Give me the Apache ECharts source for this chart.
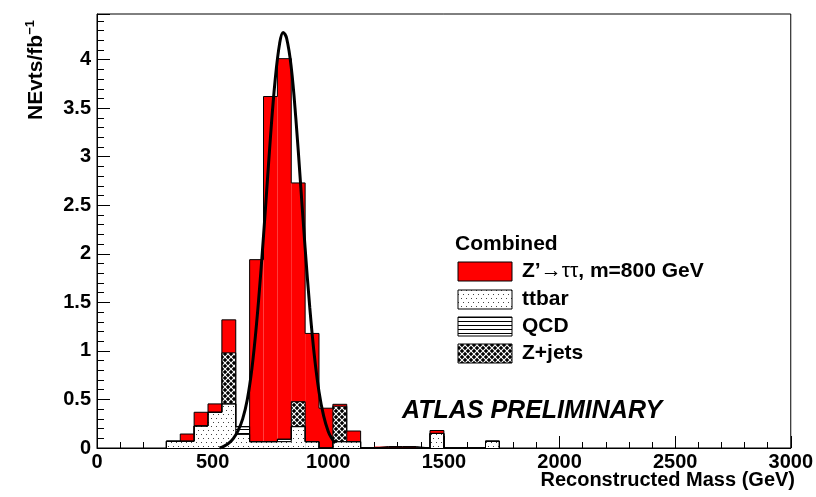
<!DOCTYPE html>
<html><head><meta charset="utf-8">
<script src="https://cdn.jsdelivr.net/npm/echarts@6/dist/echarts.min.js"></script>
<style>html,body{margin:0;padding:0;background:#fff}#c{width:816px;height:497px}</style>
</head><body><div id="c"></div>
<script>
// ---- data ----
const binLow   = [300, 360, 420, 480, 540, 600, 660, 720, 780, 840, 900, 960, 1020, 1080, 1200, 1260, 1320, 1440, 1680];
const binWidth = 60;
const ttbar  = [0.07, 0.07, 0.227, 0.368, 0.454, 0.14, 0.065, 0.065, 0.065, 0.22, 0.065, 0, 0.065, 0.065, 0, 0, 0, 0.15, 0.07];
const qcd    = [0, 0, 0, 0, 0, 0.08, 0, 0, 0.025, 0, 0, 0, 0, 0, 0, 0, 0, 0, 0];
const zjets  = [0, 0, 0, 0, 0.526, 0, 0, 0, 0, 0.257, 0, 0, 0.365, 0, 0, 0, 0, 0, 0];
const signal = [0, 0.074, 0.141, 0.086, 0.34, 0, 1.875, 3.555, 3.92, 2.253, 1.115, 0.41, 0.02, 0.11, 0.015, 0.015, 0.015, 0.03, 0];
const curveMass  = [530, 550, 570, 590, 610, 630, 650, 670, 690, 710, 730, 750, 770, 790, 805, 820, 840, 860, 880, 900, 920, 940, 960, 980, 1000, 1015, 1030];
const curveValue = [0.0, 0.02, 0.05, 0.1, 0.18, 0.3, 0.5, 0.82, 1.28, 1.86, 2.52, 3.2, 3.78, 4.17, 4.28, 4.22, 3.92, 3.39, 2.73, 2.06, 1.45, 0.95, 0.58, 0.33, 0.17, 0.1, 0.05];
const legendTitle  = 'Combined';
const legendLabels = ['Z’→ττ, m=800 GeV', 'ttbar', 'QCD', 'Z+jets'];
const xTitle = 'Reconstructed Mass (GeV)';
const yTitle = 'NEvts/fb';
const stamp  = 'ATLAS PRELIMINARY';

// ---- patterns ----
function pat(kind) {
  const c = document.createElement('canvas');
  const ctx = c.getContext('2d');
  if (kind === 'dots') {
    c.width = 5; c.height = 8;
    ctx.fillStyle = '#fff'; ctx.fillRect(0, 0, 5, 8);
    ctx.fillStyle = '#444';
    ctx.fillRect(1, 2, 1, 1); ctx.fillRect(3, 6, 1, 1);
  } else if (kind === 'hlines') {
    c.width = 4; c.height = 4;
    ctx.fillStyle = '#fff'; ctx.fillRect(0, 0, 4, 4);
    ctx.fillStyle = '#000'; ctx.fillRect(0, 1, 4, 1);
  } else {
    c.width = 6; c.height = 6;
    ctx.fillStyle = '#000'; ctx.fillRect(0, 0, 6, 6);
    ctx.strokeStyle = '#fff'; ctx.lineWidth = 1.1;
    ctx.beginPath(); ctx.moveTo(0, 0); ctx.lineTo(6, 6); ctx.moveTo(6, 0); ctx.lineTo(0, 6); ctx.stroke();
  }
  return { image: c, repeat: 'repeat' };
}
const fills = ['#ff0000', pat('dots'), pat('hlines'), pat('cross')];

// cumulative levels: ttbar, +qcd, +zjets, +signal
const lvl1 = ttbar.slice();
const lvl2 = lvl1.map((v, i) => v + qcd[i]);
const lvl3 = lvl2.map((v, i) => v + zjets[i]);
const lvl4 = lvl3.map((v, i) => v + signal[i]);

function histSeries(name, base, top, fill) {
  const data = binLow.map((lo, i) => [lo, lo + binWidth, base[i], top[i]]).filter(d => d[3] > d[2]);
  return {
    type: 'custom', name, z: 2, silent: true, data,
    encode: { x: [0, 1], y: [2, 3] },
    renderItem: (params, api) => {
      const p0 = api.coord([api.value(0), api.value(3)]);
      const p1 = api.coord([api.value(1), api.value(2)]);
      return { type: 'rect', shape: { x: p0[0], y: p0[1], width: p1[0] - p0[0], height: p1[1] - p0[1] }, style: { fill: fill, stroke: null } };
    }
  };
}
function contour(levels) {
  const pts = [];
  let prevHi = null;
  binLow.forEach((lo, i) => {
    const hi = lo + binWidth, v = levels[i];
    if (prevHi === null) pts.push([lo, 0]);
    else if (prevHi !== lo) { pts.push([prevHi, 0]); pts.push([lo, 0]); }
    pts.push([lo, v]); pts.push([hi, v]);
    prevHi = hi;
  });
  pts.push([prevHi, 0]);
  return pts;
}
function contourSeries(levels) {
  return { type: 'line', data: contour(levels), showSymbol: false, silent: true, z: 3,
           lineStyle: { color: '#000', width: 1 }, animation: false };
}

const FONT = '"Liberation Sans", Arial, Helvetica, sans-serif';
const zero = binLow.map(() => 0);

const chart = echarts.init(document.getElementById('c'), null, { renderer: 'canvas' });
chart.setOption({
  animation: false,
  backgroundColor: '#fff',
  grid: { left: 97, right: 21, top: 14, bottom: 49, show: true, borderColor: '#000', borderWidth: 1, backgroundColor: 'transparent' },
  xAxis: {
    type: 'value', min: 0, max: 3000, interval: 500,
    axisLine: { show: true, onZero: false, lineStyle: { color: '#000', width: 1 } },
    axisTick: { show: true, inside: true, length: 12, lineStyle: { color: '#000' } },
    minorTick: { show: true, splitNumber: 5, length: 6, lineStyle: { color: '#000' } },
    splitLine: { show: false },
    axisLabel: { color: '#000', fontFamily: FONT, fontWeight: 'bold', fontSize: 20, margin: 4, formatter: v => String(v) }
  },
  yAxis: {
    type: 'value', min: 0, max: 4.47, interval: 0.5,
    axisLine: { show: true, onZero: false, lineStyle: { color: '#000', width: 1 } },
    axisTick: { show: true, inside: true, length: 13, lineStyle: { color: '#000' } },
    minorTick: { show: true, splitNumber: 5, length: 7, lineStyle: { color: '#000' } },
    splitLine: { show: false },
    axisLabel: { color: '#000', fontFamily: FONT, fontWeight: 'bold', fontSize: 20, margin: 6, showMaxLabel: false }
  },
  series: [
    histSeries('ttbar', zero, lvl1, fills[1]),
    histSeries('QCD', lvl1, lvl2, fills[2]),
    histSeries('Z+jets', lvl2, lvl3, fills[3]),
    histSeries('signal', lvl3, lvl4, fills[0]),
    contourSeries(lvl4), contourSeries(lvl3), contourSeries(lvl2), contourSeries(lvl1),
    { type: 'line', data: curveMass.map((m, i) => [m, curveValue[i]]), smooth: 0.4, showSymbol: false, silent: true, z: 5,
      lineStyle: { color: '#000', width: 3 } }
  ],
  graphic: [
    { type: 'text', x: 24, y: 120, rotation: Math.PI / 2, z: 10,
      style: { text: '{a|' + yTitle + '}{b|−1}', rich: {
        a: { font: 'bold 21px ' + FONT, fill: '#000' },
        b: { font: 'bold 13px ' + FONT, fill: '#000', padding: [0, 0, 11, 0] } },
        verticalAlign: 'top', align: 'left' } },
    { type: 'text', right: 21, top: 470, z: 10, style: { text: xTitle, font: 'bold 20px ' + FONT, fill: '#000' } },
    { type: 'text', x: 402, y: 399, z: 10, style: { text: stamp, font: 'italic bold 25px ' + FONT, fill: '#000' } },
    { type: 'text', x: 455, y: 234, z: 10, style: { text: legendTitle, font: 'bold 21px ' + FONT, fill: '#000' } },
    ...legendLabels.flatMap((lab, i) => {
      const y = [262, 290, 317, 344][i];
      const txt = i === 0
        ? { text: '{b|Z’}{s|→ττ}{b|, m=800 GeV}', rich: { b: { font: 'bold 21px ' + FONT, fill: '#000' }, s: { font: '21px ' + FONT, fill: '#000' } } }
        : { text: lab, font: 'bold 21px ' + FONT, fill: '#000' };
      return [
        { type: 'rect', z: 10, shape: { x: 458, y: y, width: 54, height: 19 }, style: { fill: fills[i], stroke: '#000', lineWidth: 1 } },
        { type: 'text', z: 10, x: 522, y: y + 9.5, style: Object.assign({ verticalAlign: 'middle' }, txt) }
      ];
    })
  ]
});
</script>
</body></html>
